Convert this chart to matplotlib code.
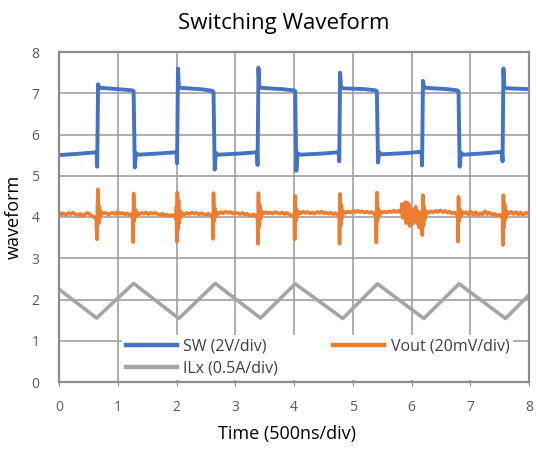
import matplotlib

matplotlib.use("Agg")

import matplotlib.pyplot as plt

plt.rcParams["font.family"] = ["Open Sans", "DejaVu Sans"]

# SW node (2V/div): corner points
sw_t = [0.0, 0.3, 0.64, 0.65, 0.665, 0.68, 0.72, 1.0, 1.25, 1.27, 1.29, 1.31, 1.35, 1.7, 2.0,
        2.01, 2.025, 2.04, 2.08, 2.4, 2.61, 2.63, 2.65, 2.67, 2.71, 3.1, 3.37,
        3.38, 3.395, 3.41, 3.45, 3.8, 4.0, 4.02, 4.04, 4.06, 4.1, 4.5, 4.76,
        4.77, 4.785, 4.8, 4.84, 5.2, 5.39, 5.41, 5.43, 5.45, 5.49, 5.9, 6.17,
        6.18, 6.195, 6.21, 6.25, 6.6, 6.78, 6.8, 6.82, 6.84, 6.88, 7.3, 7.54,
        7.55, 7.565, 7.58, 7.62, 8.0]
sw_v = [5.5, 5.53, 5.57, 5.22, 7.22, 7.15, 7.13, 7.1, 7.07, 7.05, 5.2, 5.55, 5.51, 5.54, 5.57,
        5.3, 7.6, 7.16, 7.13, 7.1, 7.06, 7.03, 5.15, 5.55, 5.51, 5.54, 5.57,
        5.26, 7.62, 7.16, 7.13, 7.1, 7.07, 7.05, 5.12, 5.55, 5.51, 5.54, 5.57,
        5.35, 7.5, 7.15, 7.12, 7.1, 7.07, 7.05, 5.32, 5.57, 5.52, 5.55, 5.58,
        5.25, 7.3, 7.16, 7.13, 7.1, 7.07, 7.05, 5.22, 5.56, 5.51, 5.55, 5.58,
        5.35, 7.6, 7.16, 7.12, 7.1]

# Vout ripple (20mV/div): baseline wiggle and switching spikes
vout_t = [0.0, 0.04, 0.08, 0.12, 0.16, 0.2, 0.24, 0.28, 0.32, 0.36, 0.4, 0.44, 0.48, 0.52, 0.56, 0.6,
          0.635, 0.645, 0.655, 0.665, 0.675, 0.685, 0.7, 0.72,
          0.76, 0.8, 0.84, 0.88, 0.92, 0.96, 1.0, 1.04, 1.08, 1.12, 1.16, 1.2, 1.24,
          1.255, 1.262, 1.27, 1.28, 1.29, 1.305, 1.325,
          1.36, 1.4, 1.44, 1.48, 1.52, 1.56, 1.6, 1.64, 1.68, 1.72, 1.76, 1.8, 1.84, 1.88, 1.92, 1.96,
          1.99, 2.0, 2.005, 2.015, 2.025, 2.035, 2.045, 2.06, 2.08, 2.1,
          2.14, 2.18, 2.22, 2.26, 2.3, 2.34, 2.38, 2.42, 2.46, 2.5, 2.54, 2.58,
          2.615, 2.622, 2.63, 2.64, 2.65, 2.665, 2.685,
          2.72, 2.76, 2.8, 2.84, 2.88, 2.92, 2.96, 3.0, 3.04, 3.08, 3.12, 3.16, 3.2, 3.24, 3.28, 3.32, 3.36,
          3.38, 3.385, 3.395, 3.405, 3.415, 3.43, 3.45,
          3.48, 3.52, 3.56, 3.6, 3.64, 3.68, 3.72, 3.76, 3.8, 3.84, 3.88, 3.92, 3.96,
          4.005, 4.012, 4.02, 4.03, 4.04, 4.055, 4.075,
          4.11, 4.15, 4.19, 4.23, 4.27, 4.31, 4.35, 4.39, 4.43, 4.47, 4.51, 4.55, 4.59, 4.63, 4.67, 4.71, 4.75,
          4.77, 4.775, 4.785, 4.795, 4.805, 4.82, 4.84,
          4.88, 4.92, 4.96, 5.0, 5.04, 5.08, 5.12, 5.16, 5.2, 5.24, 5.28, 5.32, 5.36,
          5.395, 5.402, 5.41, 5.42, 5.43, 5.445, 5.465,
          5.5, 5.54, 5.58, 5.62, 5.66, 5.7, 5.74, 5.78, 5.82,
          5.84, 5.85, 5.87, 5.88, 5.9, 5.91, 5.93, 5.94, 5.96, 5.97, 5.99, 6.01, 6.03, 6.05, 6.07, 6.09,
          6.11, 6.13, 6.15, 6.17,
          6.185, 6.195, 6.205, 6.215, 6.23, 6.25,
          6.29, 6.33, 6.37, 6.41, 6.45, 6.49, 6.53, 6.57, 6.61, 6.65, 6.69, 6.73, 6.77,
          6.785, 6.792, 6.8, 6.81, 6.82, 6.835, 6.855,
          6.89, 6.93, 6.97, 7.01, 7.05, 7.09, 7.13, 7.17, 7.21, 7.25, 7.29, 7.33, 7.37, 7.41, 7.45, 7.49, 7.53,
          7.55, 7.555, 7.565, 7.575, 7.585, 7.6, 7.62,
          7.66, 7.7, 7.74, 7.78, 7.82, 7.86, 7.9, 7.94, 7.98, 8.0]
vout_v = [4.12, 4.06, 4.09, 4.05, 4.1, 4.07, 4.11, 4.06, 4.04, 4.08, 4.03, 4.06, 4.1, 4.07, 4.02, 4.0,
          3.95, 3.46, 4.3, 4.67, 3.85, 4.25, 3.98, 4.12,
          4.08, 4.1, 4.06, 4.09, 4.1, 4.07, 4.12, 4.08, 4.1, 4.06, 4.09, 4.05, 4.08,
          4.0, 3.39, 4.57, 3.9, 4.2, 4.0, 4.12,
          4.06, 4.1, 4.08, 4.11, 4.07, 4.1, 4.08, 4.1, 4.07, 4.05, 4.08, 4.04, 4.06, 4.02, 4.05, 4.03,
          3.95, 4.25, 3.4, 4.59, 3.7, 4.4, 3.85, 4.15, 4.0, 4.1,
          4.06, 4.1, 4.07, 4.11, 4.08, 4.1, 4.06, 4.09, 4.07, 4.05, 4.08, 4.04,
          4.0, 3.47, 4.58, 3.9, 4.22, 4.0, 4.12,
          4.08, 4.12, 4.09, 4.13, 4.1, 4.12, 4.08, 4.11, 4.09, 4.07, 4.1, 4.06, 4.08, 4.05, 4.03, 4.06, 4.02,
          3.95, 3.35, 4.58, 3.75, 4.3, 3.95, 4.14,
          4.08, 4.12, 4.09, 4.11, 4.08, 4.12, 4.1, 4.08, 4.11, 4.07, 4.1, 4.06, 4.04,
          4.0, 3.46, 4.51, 3.9, 4.2, 4.02, 4.13,
          4.09, 4.13, 4.1, 4.12, 4.09, 4.11, 4.08, 4.12, 4.1, 4.13, 4.09, 4.11, 4.08, 4.1, 4.07, 4.09, 4.05,
          3.98, 3.35, 4.56, 3.8, 4.3, 3.98, 4.14,
          4.1, 4.13, 4.11, 4.14, 4.12, 4.15, 4.12, 4.14, 4.11, 4.13, 4.1, 4.12, 4.08,
          4.02, 3.38, 4.59, 3.9, 4.22, 4.02, 4.14,
          4.1, 4.13, 4.11, 4.14, 4.12, 4.16, 4.12, 4.15, 4.1,
          4.32, 3.98, 4.3, 4.0, 4.36, 3.85, 4.35, 3.9, 4.3, 3.78, 4.2, 3.82, 4.18, 3.9, 4.25, 3.85,
          4.15, 3.75, 4.1, 3.95,
          3.56, 4.53, 3.8, 4.25, 3.95, 4.14,
          4.1, 4.14, 4.11, 4.15, 4.12, 4.16, 4.12, 4.15, 4.11, 4.13, 4.09, 4.11, 4.06,
          4.0, 3.4, 4.49, 3.9, 4.2, 4.0, 4.13,
          4.08, 4.12, 4.06, 4.13, 4.05, 4.12, 4.04, 4.1, 4.06, 4.14, 4.07, 4.11, 4.05, 4.08, 4.03, 4.06, 4.02,
          3.95, 3.32, 4.53, 3.75, 4.3, 3.95, 4.14,
          4.08, 4.13, 4.07, 4.12, 4.06, 4.11, 4.05, 4.1, 4.08, 4.11]

# Inductor current (0.5A/div): triangle corners
ilx_t = [0.0, 0.64, 1.27, 2.04, 2.66, 3.43, 4.02, 4.83, 5.42, 6.21, 6.81, 7.6, 8.0]
ilx_v = [2.25, 1.55, 2.39, 1.54, 2.39, 1.55, 2.38, 1.54, 2.38, 1.54, 2.38, 1.54, 2.11]

x_ticks = [0, 1, 2, 3, 4, 5, 6, 7, 8]
y_ticks = [0, 1, 2, 3, 4, 5, 6, 7, 8]

fig = plt.figure(figsize=(5.36, 4.55), dpi=100)
ax = fig.add_axes([59 / 536, 73 / 455, 470 / 536, 330 / 455])

ax.plot(sw_t, sw_v, color="#4472C4", linewidth=2.8, label="SW (2V/div)", solid_joinstyle="round")
ax.plot(ilx_t, ilx_v, color="#A5A5A5", linewidth=2.6, label="ILx (0.5A/div)")
ax.plot(vout_t, vout_v, color="#ED7D31", linewidth=2.6, label="Vout (20mV/div)", solid_joinstyle="round")

ax.set_xlim(0, 8)
ax.set_ylim(0, 8)
ax.set_xticks(x_ticks)
ax.set_yticks(y_ticks)
ax.grid(True, color="#A0A0A0", linewidth=1.2)
ax.set_axisbelow(True)
for spine in ax.spines.values():
    spine.set_color("#8C8C8C")
    spine.set_linewidth(1.6)
ax.tick_params(axis="x", length=3, color="#8C8C8C", pad=10, labelsize=10, labelcolor="#595959")
ax.tick_params(axis="y", length=0, pad=14, labelsize=10, labelcolor="#595959")

ax.set_xlabel("Time (500ns/div)", fontsize=13, labelpad=8)
ax.xaxis.set_label_coords((287 - 59) / 470, -0.13)
ax.set_ylabel("waveform", fontsize=13, labelpad=6)
fig.text(284 / 536, 1 - 29 / 455, "Switching Waveform", fontsize=16, ha="center", va="baseline")

leg = ax.legend(loc="lower left", bbox_to_anchor=(0.13, 0.0), ncol=2, frameon=True,
                facecolor="white", edgecolor="none", framealpha=1.0, fancybox=False,
                fontsize=11.5, handlelength=3.2, handletextpad=0.4, columnspacing=3.45,
                labelspacing=0.35, borderpad=0.25, borderaxespad=0.1)
for text in leg.get_texts():
    text.set_color("#404040")
for line in leg.get_lines():
    line.set_linewidth(3.2)

fig.savefig("out.png", dpi=100)
